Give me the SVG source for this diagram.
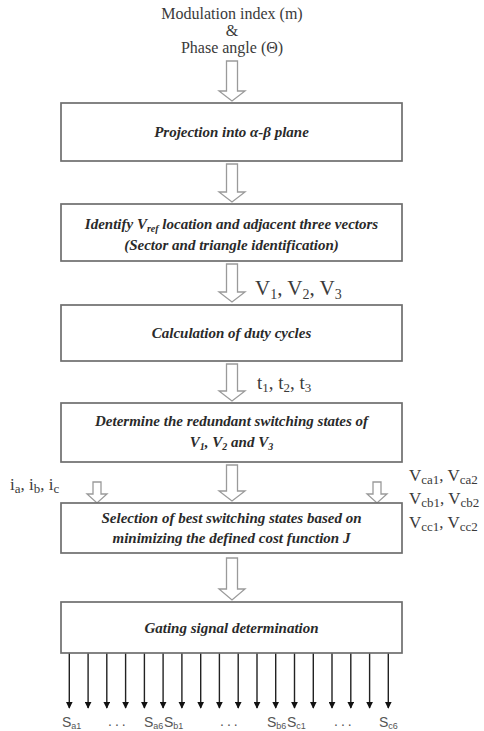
<svg xmlns="http://www.w3.org/2000/svg" width="484" height="731" viewBox="0 0 484 731">
<style>
.box{fill:#fff;stroke:#6e6e6e;stroke-width:1.7}
.bt{font-family:"Liberation Serif",serif;font-weight:bold;font-style:italic;font-size:15px;fill:#2a2a2a;text-anchor:middle}
.rt{font-family:"Liberation Serif",serif;font-size:16px;fill:#3a3a3a;text-anchor:middle}
.lab{font-family:"Liberation Serif",serif;fill:#3a3a3a}
.sl{font-family:"Liberation Sans",Arial,sans-serif;font-size:14px;fill:#555}
.ha{fill:#fff;stroke:#9a9a9a;stroke-width:1.3}
.sig{stroke:#222;stroke-width:1.4;fill:none}
</style>
<defs>
<marker id="ah" viewBox="0 0 10 10" refX="9" refY="5" markerWidth="7" markerHeight="7" markerUnits="userSpaceOnUse" orient="auto">
<path d="M0,0 L10,5 L0,10 Z" fill="#111"/>
</marker>
</defs>

<g id="inputs">
<text class="rt" x="232" y="19">Modulation index (m)</text>
<text class="rt" x="232" y="36">&amp;</text>
<text class="rt" x="232" y="53">Phase angle (Θ)</text>
</g>

<g id="connectors">
<path class="ha" d="M226.5,61 H237.5 V91 H245 L232,101 L219,91 H226.5 Z"/>
<path class="ha" d="M226.5,164 H237.5 V192 H245 L232,202 L219,192 H226.5 Z"/>
<path class="ha" d="M226.5,264 H237.5 V292 H245 L232,302 L219,292 H226.5 Z"/>
<path class="ha" d="M226.5,364 H237.5 V391 H245 L232,401 L219,391 H226.5 Z"/>
<path class="ha" d="M226.5,465 H237.5 V491 H245 L232,501 L219,491 H226.5 Z"/>
<path class="ha" d="M226.5,558 H237.5 V589 H245 L232,600 L219,589 H226.5 Z"/>
<path class="ha" d="M93,482 H101 V494 H107 L97,503 L87,494 H93 Z"/>
<path class="ha" d="M373,482 H381 V494 H387 L377,503 L367,494 H373 Z"/>
<g class="sig" marker-end="url(#ah)">
<line x1="69.3" y1="653" x2="69.3" y2="708"/>
<line x1="88.1" y1="653" x2="88.1" y2="708"/>
<line x1="106.8" y1="653" x2="106.8" y2="708"/>
<line x1="125.6" y1="653" x2="125.6" y2="708"/>
<line x1="144.4" y1="653" x2="144.4" y2="708"/>
<line x1="163.1" y1="653" x2="163.1" y2="708"/>
<line x1="181.9" y1="653" x2="181.9" y2="708"/>
<line x1="200.7" y1="653" x2="200.7" y2="708"/>
<line x1="219.4" y1="653" x2="219.4" y2="708"/>
<line x1="238.2" y1="653" x2="238.2" y2="708"/>
<line x1="257.0" y1="653" x2="257.0" y2="708"/>
<line x1="275.7" y1="653" x2="275.7" y2="708"/>
<line x1="294.5" y1="653" x2="294.5" y2="708"/>
<line x1="313.3" y1="653" x2="313.3" y2="708"/>
<line x1="332.0" y1="653" x2="332.0" y2="708"/>
<line x1="350.8" y1="653" x2="350.8" y2="708"/>
<line x1="369.6" y1="653" x2="369.6" y2="708"/>
<line x1="388.3" y1="653" x2="388.3" y2="708"/>
</g>
</g>

<g id="projection">
<rect class="box" x="61" y="103" width="341" height="58"/>
<text class="bt" x="231.5" y="137">Projection into α-β plane</text>
</g>

<g id="identify">
<rect class="box" x="61" y="204" width="341" height="57"/>
<text class="bt" x="231.5" y="229">Identify V<tspan font-size="10" dy="3">ref</tspan><tspan dy="-3"> location and adjacent three vectors</tspan></text>
<text class="bt" x="231.5" y="250">(Sector and triangle identification)</text>
</g>
<text class="lab" x="255" y="295" font-size="21">V<tspan font-size="14" dy="4">1</tspan><tspan dy="-4">, V</tspan><tspan font-size="14" dy="4">2</tspan><tspan dy="-4">, V</tspan><tspan font-size="14" dy="4">3</tspan></text>

<g id="duty">
<rect class="box" x="61" y="305" width="341" height="56"/>
<text class="bt" x="231.5" y="338">Calculation of duty cycles</text>
</g>
<text class="lab" x="257" y="389" font-size="19">t<tspan font-size="13" dy="3">1</tspan><tspan dy="-3">, t</tspan><tspan font-size="13" dy="3">2</tspan><tspan dy="-3">, t</tspan><tspan font-size="13" dy="3">3</tspan></text>

<g id="redundant">
<rect class="box" x="61" y="403" width="341" height="59"/>
<text class="bt" x="231.5" y="426">Determine the redundant switching states of</text>
<text class="bt" x="231.5" y="447">V<tspan font-size="10" dy="3">1</tspan><tspan dy="-3">, V</tspan><tspan font-size="10" dy="3">2</tspan><tspan dy="-3"> and V</tspan><tspan font-size="10" dy="3">3</tspan></text>
</g>

<text class="lab" x="10" y="490" font-size="17">i<tspan font-size="13" dy="3">a</tspan><tspan dy="-3">, i</tspan><tspan font-size="13" dy="3">b</tspan><tspan dy="-3">, i</tspan><tspan font-size="13" dy="3">c</tspan></text>
<text class="lab" x="409" y="481" font-size="17">V<tspan font-size="13" dy="3">ca1</tspan><tspan dy="-3">, V</tspan><tspan font-size="13" dy="3">ca2</tspan></text>
<text class="lab" x="409" y="504" font-size="17">V<tspan font-size="13" dy="3">cb1</tspan><tspan dy="-3">, V</tspan><tspan font-size="13" dy="3">cb2</tspan></text>
<text class="lab" x="409" y="528" font-size="17">V<tspan font-size="13" dy="3">cc1</tspan><tspan dy="-3">, V</tspan><tspan font-size="13" dy="3">cc2</tspan></text>

<g id="selection">
<rect class="box" x="61" y="503" width="341" height="50"/>
<text class="bt" x="231.5" y="523">Selection of best switching states based on</text>
<text class="bt" x="231.5" y="543">minimizing the defined cost function J</text>
</g>

<g id="gating">
<rect class="box" x="61" y="602" width="341" height="51"/>
<text class="bt" x="231.5" y="633">Gating signal determination</text>
</g>

<g id="outputs">
<text class="sl" x="62" y="727">S<tspan font-size="9" dy="2">a1</tspan></text>
<text class="sl" x="108" y="726" letter-spacing="3">...</text>
<text class="sl" x="144" y="727">S<tspan font-size="9" dy="2">a6</tspan></text>
<text class="sl" x="164" y="727">S<tspan font-size="9" dy="2">b1</tspan></text>
<text class="sl" x="220" y="726" letter-spacing="3">...</text>
<text class="sl" x="267" y="727">S<tspan font-size="9" dy="2">b6</tspan></text>
<text class="sl" x="287" y="727">S<tspan font-size="9" dy="2">c1</tspan></text>
<text class="sl" x="334" y="726" letter-spacing="3">...</text>
<text class="sl" x="379" y="727">S<tspan font-size="9" dy="2">c6</tspan></text>
</g>
</svg>
